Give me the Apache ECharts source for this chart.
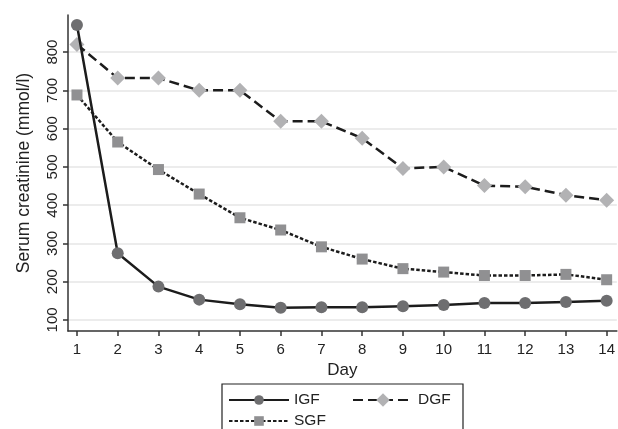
<!DOCTYPE html>
<html>
<head>
<meta charset="utf-8">
<script src="https://cdn.jsdelivr.net/npm/echarts@6/dist/echarts.min.js"></script>
<style>
  html, body { margin: 0; padding: 0; background: #fff; }
  #chart { width: 618px; height: 429px; }
</style>
</head>
<body>
<div id="chart"></div>
<script>
var days = [1, 2, 3, 4, 5, 6, 7, 8, 9, 10, 11, 12, 13, 14];
var igf = [871, 274, 187, 153, 141, 132, 133, 133, 136, 139, 144, 144, 147, 150];
var dgf = [820, 732, 732, 700, 700, 619, 619, 575, 496, 500, 451, 448, 426, 413];
var sgf = [688, 565, 493, 429, 367, 335, 291, 259, 234, 225, 216, 216, 219, 205];
var yTicks = [100, 200, 300, 400, 500, 600, 700, 800];

function pairs(vals) {
    return days.map(function (d, i) { return [d, vals[i]]; });
}

var dom = document.getElementById("chart");
var myChart = echarts.init(dom);
var font = 'Liberation Sans, Arial, sans-serif';

// one legend per entry so each can get its own icon size
function legendAt(name, left, top, h) {
    return {
        orient: 'horizontal',
        left: left,
        top: top,
        padding: 0,
        itemWidth: 60,
        itemHeight: h,
        textStyle: { fontFamily: font, fontSize: 15.5, color: '#222' },
        data: [name]
    };
}

option = {
    animation: false,
    grid: { left: 68, top: 15, right: 1, bottom: 98 },
    graphic: [{
        type: 'rect',
        shape: { x: 222, y: 384, width: 241, height: 60 },
        style: { fill: 'none', stroke: '#222', lineWidth: 1.2 },
        silent: true
    }],
    legend: [
        legendAt('IGF', 228, 392, 12),
        legendAt('DGF', 352, 392, 17),
        legendAt('SGF', 228, 413, 12)
    ],
    xAxis: {
        type: 'value',
        min: 0.78,
        max: 14.25,
        name: 'Day',
        nameLocation: 'middle',
        nameGap: 30,
        nameTextStyle: { fontFamily: font, fontSize: 17, color: '#222' },
        axisLine: { onZero: false, lineStyle: { color: '#333', width: 1.5 } },
        axisTick: { customValues: days, length: 5, lineStyle: { color: '#333', width: 1.5 } },
        axisLabel: { customValues: days, margin: 11, fontFamily: font, fontSize: 15, color: '#222' },
        splitLine: { show: false }
    },
    yAxis: {
        type: 'value',
        min: 71,
        max: 897,
        name: 'Serum creatinine (mmol/l)',
        nameLocation: 'middle',
        nameGap: 35,
        nameTextStyle: { fontFamily: font, fontSize: 17.5, color: '#222' },
        axisLine: { show: true, onZero: false, lineStyle: { color: '#333', width: 1.5 } },
        axisTick: { show: true, customValues: yTicks, length: 5, lineStyle: { color: '#333', width: 1.5 } },
        axisLabel: { customValues: yTicks, rotate: 90, margin: 8, fontFamily: font, fontSize: 15, color: '#222' },
        splitLine: { show: true, lineStyle: { color: '#e6e6e6', width: 1.5 } }
    },
    series: [
        {
            name: 'IGF',
            type: 'line',
            data: pairs(igf),
            symbol: 'circle',
            symbolSize: 12,
            itemStyle: { color: '#6e6e70' },
            lineStyle: { color: '#1c1c1c', width: 2.5, type: 'solid' },
            z: 3
        },
        {
            name: 'DGF',
            type: 'line',
            data: pairs(dgf),
            symbol: 'diamond',
            symbolSize: 15,
            itemStyle: { color: '#b2b2b4' },
            lineStyle: { color: '#1c1c1c', width: 2.5, type: [10, 5] },
            z: 2
        },
        {
            name: 'SGF',
            type: 'line',
            data: pairs(sgf),
            symbol: 'rect',
            symbolSize: 11,
            itemStyle: { color: '#909092' },
            lineStyle: { color: '#1c1c1c', width: 2.5, type: [3.5, 2] },
            z: 2
        }
    ]
};

if (option && typeof option === "object") {
    myChart.setOption(option, true);
}
</script>
</body>
</html>
